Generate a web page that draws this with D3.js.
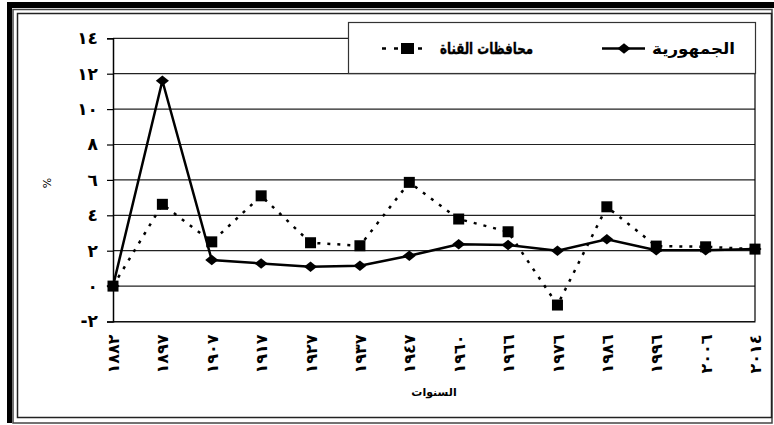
<!DOCTYPE html>
<html>
<head>
<meta charset="utf-8">
<script src="https://cdn.jsdelivr.net/npm/d3@7"></script>
<style>
  body { margin: 0; background: #fff; }
  text { font-family: "DejaVu Sans", sans-serif; }
</style>
</head>
<body>
<svg id="chart" width="774" height="425"></svg>
<script>
// years (category axis) as they appear in the chart
var years = ["١٨٨٢", "١٨٩٧", "١٩٠٧", "١٩١٧", "١٩٢٧", "١٩٣٧", "١٩٤٧", "١٩٦٠", "١٩٦٦", "١٩٧٦", "١٩٨٦", "١٩٩٦", "٢٠٠٦", "٢٠١٤"];
// الجمهورية
var republic = [0, 11.6, 1.47, 1.28, 1.09, 1.15, 1.71, 2.36, 2.32, 2.0, 2.65, 2.03, 2.03, 2.09];
// محافظات القناة
var canal = [0, 4.62, 2.5, 5.1, 2.45, 2.28, 5.86, 3.79, 3.07, -1.07, 4.48, 2.26, 2.22, 2.09];
var yTicks = [-2, 0, 2, 4, 6, 8, 10, 12, 14];
var yTickLabels = ["-٢", "٠", "٢", "٤", "٦", "٨", "١٠", "١٢", "١٤"];

function drawChart() {
  var svg = d3.select("#chart");

  // frames
  svg.append("rect").attr("x", 7).attr("y", 2).attr("width", 767).attr("height", 6).attr("fill", "#000");
  svg.append("rect").attr("x", 7).attr("y", 2).attr("width", 5).attr("height", 421).attr("fill", "#000");
  svg.append("rect").attr("x", 13).attr("y", 9.5).attr("width", 759).attr("height", 413.5)
      .attr("fill", "none").attr("stroke", "#444").attr("stroke-width", 1.5);
  svg.append("rect").attr("x", 17.5).attr("y", 13.5).attr("width", 754).attr("height", 404)
      .attr("fill", "none").attr("stroke", "#222").attr("stroke-width", 1.5);

  var plotL = 113, plotR = 755, plotT = 38.3, plotB = 321.5;

  var x = d3.scalePoint().domain(years).range([plotL, plotR]);
  var y = d3.scaleLinear().domain([-2, 14]).range([plotB, plotT]);

  // gridlines
  svg.append("g").selectAll("line").data(yTicks).enter().append("line")
      .attr("x1", plotL).attr("x2", plotR)
      .attr("y1", function(d) { return y(d); }).attr("y2", function(d) { return y(d); })
      .attr("stroke", "#222").attr("stroke-width", 1.2);

  // plot border
  svg.append("line").attr("x1", plotR).attr("x2", plotR).attr("y1", plotT).attr("y2", plotB)
      .attr("stroke", "#000").attr("stroke-width", 1.2);

  // y axis
  var yAxis = d3.axisLeft(y).tickValues(yTicks).tickSize(6)
      .tickFormat(function(d, i) { return yTickLabels[i]; });
  var gy = svg.append("g").attr("transform", "translate(" + plotL + ",0)").call(yAxis);
  gy.select(".domain").attr("stroke", "#000").attr("stroke-width", 1.5);
  gy.selectAll(".tick line").attr("stroke", "#000").attr("stroke-width", 1.2);
  gy.selectAll(".tick text").attr("font-size", 17).attr("font-weight", "bold")
      .attr("font-family", "DejaVu Sans").attr("fill", "#000").attr("x", -15);

  // x axis
  var xAxis = d3.axisBottom(x).tickSize(0);
  var gx = svg.append("g").attr("transform", "translate(0," + plotB + ")").call(xAxis);
  gx.select(".domain").attr("stroke", "#000").attr("stroke-width", 1.2);
  gx.selectAll(".tick text")
      .attr("font-size", 16).attr("font-weight", "bold").attr("font-family", "DejaVu Sans").attr("fill", "#000")
      .attr("text-anchor", "end")
      .attr("transform", "rotate(-90)")
      .attr("x", -13).attr("y", 0).attr("dy", "0.35em");

  // axis titles
  svg.append("text").attr("x", 434).attr("y", 396).attr("text-anchor", "middle")
      .attr("font-size", 11).attr("font-weight", "bold").text("السنوات");
  svg.append("text").attr("transform", "translate(51,183) rotate(-90)").attr("text-anchor", "middle")
      .attr("font-size", 11).text("%");

  // lines
  var line = d3.line()
      .x(function(d, i) { return x(years[i]); })
      .y(function(d) { return y(d); });

  svg.append("path").datum(canal).attr("d", line)
      .attr("fill", "none").attr("stroke", "#000").attr("stroke-width", 2.5)
      .attr("stroke-dasharray", "3,7");
  svg.append("path").datum(republic).attr("d", line)
      .attr("fill", "none").attr("stroke", "#000").attr("stroke-width", 2.5);

  svg.append("g").selectAll("rect").data(canal).enter().append("rect")
      .attr("x", function(d, i) { return x(years[i]) - 5.5; })
      .attr("y", function(d) { return y(d) - 5.5; })
      .attr("width", 11).attr("height", 11).attr("fill", "#000");

  var diamond = d3.symbol().type(d3.symbolDiamond2).size(70);
  svg.append("g").selectAll("path").data(republic).enter().append("path")
      .attr("d", diamond)
      .attr("transform", function(d, i) { return "translate(" + x(years[i]) + "," + y(d) + ") scale(1.25,1)"; })
      .attr("fill", "#000");

  // legend
  var lg = svg.append("g");
  lg.append("rect").attr("x", 348.5).attr("y", 22.5).attr("width", 407).attr("height", 51)
      .attr("fill", "#fff").attr("stroke", "#333").attr("stroke-width", 1.2);
  lg.append("text").attr("x", 735).attr("y", 54).attr("text-anchor", "start").attr("direction", "rtl")
      .attr("font-size", 16).attr("font-weight", "bold")
      .attr("textLength", 83).attr("lengthAdjust", "spacingAndGlyphs").text("الجمهورية");
  lg.append("line").attr("x1", 602).attr("x2", 645).attr("y1", 48.5).attr("y2", 48.5)
      .attr("stroke", "#000").attr("stroke-width", 2.5);
  lg.append("path").attr("d", diamond).attr("transform", "translate(624,48.5) scale(1.25,1)");
  lg.append("text").attr("x", 533).attr("y", 54).attr("text-anchor", "start").attr("direction", "rtl")
      .attr("font-size", 16).attr("font-weight", "bold").attr("stroke", "#000").attr("stroke-width", 0.4)
      .attr("textLength", 93).attr("lengthAdjust", "spacingAndGlyphs").text("محافظات القناة");
  lg.append("line").attr("x1", 382).attr("x2", 430).attr("y1", 48.5).attr("y2", 48.5)
      .attr("stroke", "#000").attr("stroke-width", 2.5).attr("stroke-dasharray", "4,8");
  lg.append("rect").attr("x", 401).attr("y", 43).attr("width", 13).attr("height", 11).attr("fill", "#000");
}

drawChart();
</script>
</body>
</html>
